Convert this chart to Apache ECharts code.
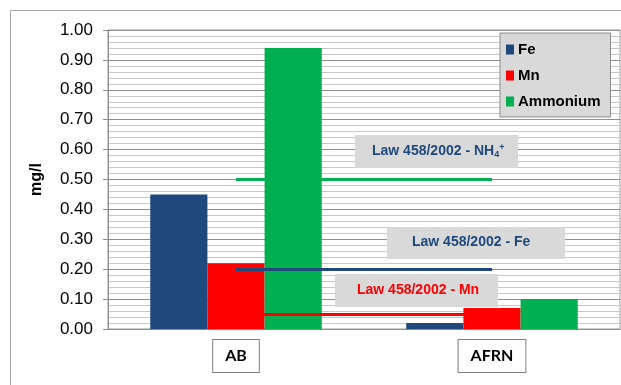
<!DOCTYPE html>
<html>
<head>
<meta charset="utf-8">
<script src="https://cdn.jsdelivr.net/npm/echarts@6/dist/echarts.min.js"></script>
<style>
  html, body { margin: 0; padding: 0; background: #fff; }
  #chart { width: 621px; height: 385px; }
</style>
</head>
<body>
<div id="chart"></div>
<script>
// Sampling points
const categories = ['AB', 'AFRN'];

// Measured concentrations (mg/l)
const feValues = [0.45, 0.02];
const mnValues = [0.22, 0.07];
const ammoniumValues = [0.94, 0.10];

// Legal limits, Law 458/2002 (mg/l)
const limitFe = 0.20;
const limitMn = 0.05;
const limitNH4 = 0.50;

// Y axis range
const yMin = 0, yMax = 1, yStep = 0.1;

const colFe = '#1f497d';
const colMn = '#ff0000';
const colNH4 = '#00b050';
const baseFont = 'Liberation Sans, Arial, sans-serif';

const chart = echarts.init(document.getElementById('chart'), null, { renderer: 'canvas' });

function limitLine(value, color, width) {
  return {
    silent: true,
    symbol: ['none', 'none'],
    label: { show: false },
    lineStyle: { color: color, width: width, type: 'solid' },
    data: [[{ coord: [categories[0], value] }, { coord: [categories[1], value] }]]
  };
}

function labelBox(x, y, w, h) {
  return {
    type: 'rect', shape: { x: x, y: y, width: w, height: h },
    style: { fill: '#d9d9d9' }, z: 20, silent: true
  };
}

chart.setOption({
  backgroundColor: '#fff',
  animation: false,
  grid: {
    left: 108, top: 30, right: 1, bottom: 56,
    show: true, borderColor: '#9a9a9a', borderWidth: 1, backgroundColor: 'transparent'
  },
  legend: {
    orient: 'vertical',
    left: 500, top: 33,
    backgroundColor: '#d9d9d9',
    borderColor: '#8c8c8c', borderWidth: 1,
    padding: [9, 10, 8, 6],
    itemGap: 11,
    itemWidth: 8, itemHeight: 10,
    icon: 'rect',
    textStyle: { fontFamily: baseFont, fontWeight: 'bold', fontSize: 15, color: '#000', padding: [0, 0, 0, -1] },
    data: ['Fe', 'Mn', 'Ammonium']
  },
  xAxis: {
    type: 'category',
    data: categories,
    axisLine: { lineStyle: { color: '#8c8c8c', width: 1 } },
    axisTick: { show: false },
    axisLabel: {
      fontFamily: 'Lato, sans-serif', fontWeight: 'bold', fontSize: 16, color: '#000',
      backgroundColor: '#fff', borderColor: '#7f7f7f', borderWidth: 1,
      padding: [8, 12, 8, 12], margin: 11
    }
  },
  yAxis: {
    type: 'value',
    min: yMin, max: yMax, interval: yStep,
    name: 'mg/l',
    nameLocation: 'middle',
    nameGap: 63,
    nameRotate: 90,
    nameTextStyle: { fontFamily: baseFont, fontWeight: 'bold', fontSize: 16, color: '#000' },
    axisLine: { show: true, lineStyle: { color: '#8c8c8c' } },
    axisTick: { show: true, length: 5, lineStyle: { color: '#8c8c8c' } },
    axisLabel: {
      fontFamily: baseFont, fontSize: 17, color: '#000', margin: 15,
      formatter: v => v.toFixed(2)
    },
    splitLine: { show: true, lineStyle: { color: '#8f8f8f', width: 1 } },
    minorTick: { show: false, splitNumber: 5 },
    minorSplitLine: { show: true, lineStyle: { color: '#c8c8c8', width: 1 } }
  },
  series: [
    {
      name: 'Fe', type: 'bar', data: feValues,
      barGap: '0%', barCategoryGap: '33%',
      itemStyle: { color: colFe }
    },
    {
      name: 'Mn', type: 'bar', data: mnValues,
      barGap: '0%', barCategoryGap: '33%',
      itemStyle: { color: colMn }
    },
    {
      name: 'Ammonium', type: 'bar', data: ammoniumValues,
      barGap: '0%', barCategoryGap: '33%',
      itemStyle: { color: colNH4 }
    },
    // Law limits drawn on top of the bars
    { name: 'limNH4', type: 'line', data: [], z: 5, markLine: limitLine(limitNH4, colNH4, 3) },
    { name: 'limFe', type: 'line', data: [], z: 5, markLine: limitLine(limitFe, colFe, 3) },
    { name: 'limMn', type: 'line', data: [], z: 5, markLine: limitLine(limitMn, colMn, 3) }
  ],
  graphic: [
    // outer chart frame
    { type: 'rect', shape: { x: 10.5, y: 10.5, width: 640, height: 400 },
      style: { fill: 'none', stroke: '#a6a6a6', lineWidth: 1 }, z: -1, silent: true },
    labelBox(355, 135, 163, 33),
    {
      type: 'text', left: 372, top: 143, z: 21, silent: true,
      style: {
        text: '{a|Law 458/2002 - NH}{s|4}{p|+}',
        rich: {
          a: { fontFamily: baseFont, fontWeight: 'bold', fontSize: 14, fill: colFe, lineHeight: 18 },
          s: { fontFamily: baseFont, fontWeight: 'bold', fontSize: 9, fill: colFe, padding: [7, 0, 0, 0], lineHeight: 18 },
          p: { fontFamily: baseFont, fontWeight: 'bold', fontSize: 9, fill: colFe, padding: [0, 0, 6, 0], lineHeight: 18 }
        }
      }
    },
    labelBox(387, 227, 178, 32),
    {
      type: 'text', left: 412, top: 235, z: 21, silent: true,
      style: { text: 'Law 458/2002 - Fe', font: 'bold 14px ' + baseFont, fill: colFe }
    },
    labelBox(335, 274, 163, 33),
    {
      type: 'text', left: 357, top: 283, z: 21, silent: true,
      style: { text: 'Law 458/2002 - Mn', font: 'bold 14px ' + baseFont, fill: colMn }
    }
  ]
});
</script>
</body>
</html>
